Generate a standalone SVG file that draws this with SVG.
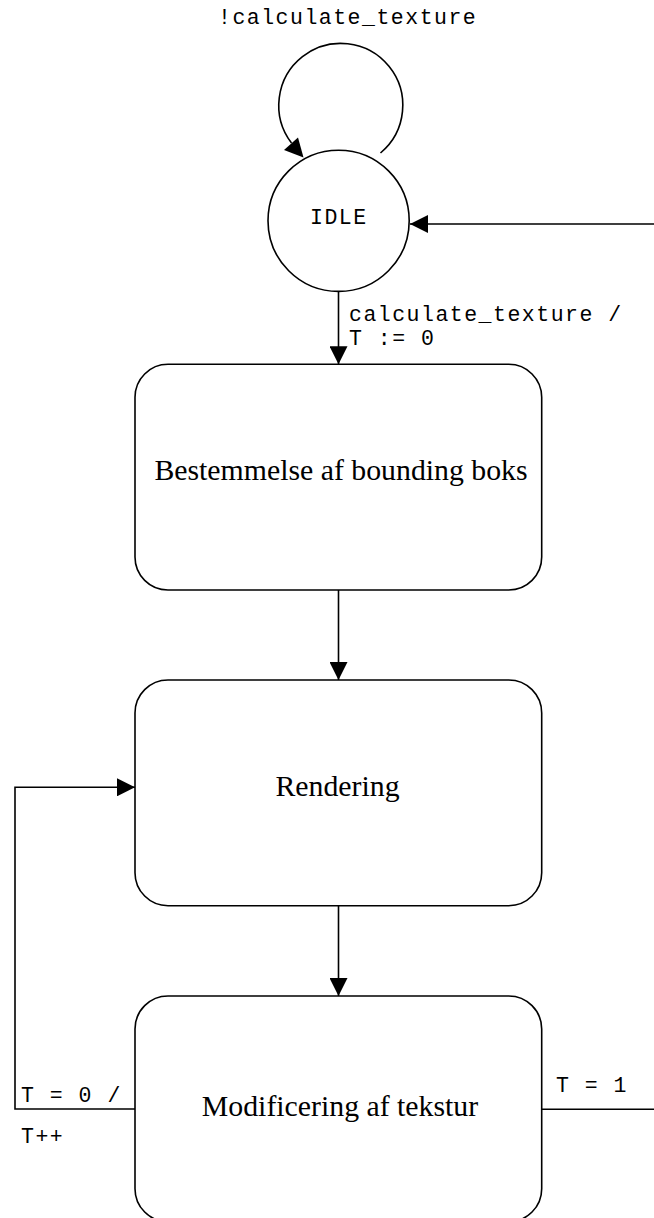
<svg xmlns="http://www.w3.org/2000/svg" width="654" height="1218" viewBox="0 0 654 1218">
  <style>
    .line { fill: none; stroke: #000; stroke-width: 1.6; }
    .state { fill: #fff; stroke: #000; stroke-width: 1.6; }
    .name { font-family: "Liberation Serif", "Times New Roman", serif; font-size: 29.8px; fill: #000; text-anchor: middle; }
    .mono { font-family: "Liberation Mono", "Courier New", monospace; font-size: 21.5px; letter-spacing: 1.5px; fill: #000; }
  </style>
  <defs>
    <marker id="arrow" viewBox="0 0 18 18" refX="18" refY="9" markerWidth="18" markerHeight="18" markerUnits="userSpaceOnUse" orient="auto">
      <path d="M0,0 L18,9 L0,18 Z" fill="#000"/>
    </marker>
  </defs>

  <rect width="654" height="1218" fill="#fff"/>

  <!-- transitions -->
  <g id="connectors">
    <!-- IDLE self loop -->
    <path class="line" d="M380.5,153 A62,62 0 1,0 291.5,143"/>
    <polygon points="303.5,157.5 284,150 298,137.5" fill="#000"/>
    <!-- IDLE to bounding box -->
    <line class="line" x1="338.5" y1="292" x2="338.5" y2="364.3" marker-end="url(#arrow)"/>
    <!-- bounding box to rendering -->
    <line class="line" x1="338.5" y1="590" x2="338.5" y2="680" marker-end="url(#arrow)"/>
    <!-- rendering to modification -->
    <line class="line" x1="338.5" y1="905.7" x2="338.5" y2="996" marker-end="url(#arrow)"/>
    <!-- modification back to rendering -->
    <polyline class="line" points="135,1109 15,1109 15,787.3 135,787.3" marker-end="url(#arrow)"/>
    <!-- modification back to IDLE -->
    <polyline class="line" points="541.7,1109.3 680,1109.3 680,224 410,224" marker-end="url(#arrow)"/>
  </g>

  <!-- transition labels -->
  <g id="labels">
    <text class="mono" x="218" y="24">!calculate_texture</text>
    <text class="mono" x="349" y="321">calculate_texture /</text>
    <text class="mono" x="349" y="345">T := 0</text>
    <text class="mono" x="21" y="1101.7">T = 0 /</text>
    <text class="mono" x="21" y="1142.7">T++</text>
    <text class="mono" x="556" y="1092.3">T = 1</text>
  </g>

  <g id="idle">
    <circle class="state" cx="338.6" cy="220.8" r="70.6"/>
    <text class="mono" x="310" y="224.3">IDLE</text>
  </g>

  <g id="bounding-box">
    <rect class="state" x="135" y="364.3" width="406.7" height="225.7" rx="33" ry="33"/>
    <text class="name" x="341" y="480">Bestemmelse af bounding boks</text>
  </g>

  <g id="rendering">
    <rect class="state" x="135" y="680" width="406.7" height="225.7" rx="33" ry="33"/>
    <text class="name" x="337.5" y="795.7">Rendering</text>
  </g>

  <g id="modification">
    <rect class="state" x="135" y="996" width="406.7" height="225.7" rx="33" ry="33"/>
    <text class="name" x="340" y="1115.7">Modificering af tekstur</text>
  </g>
</svg>
